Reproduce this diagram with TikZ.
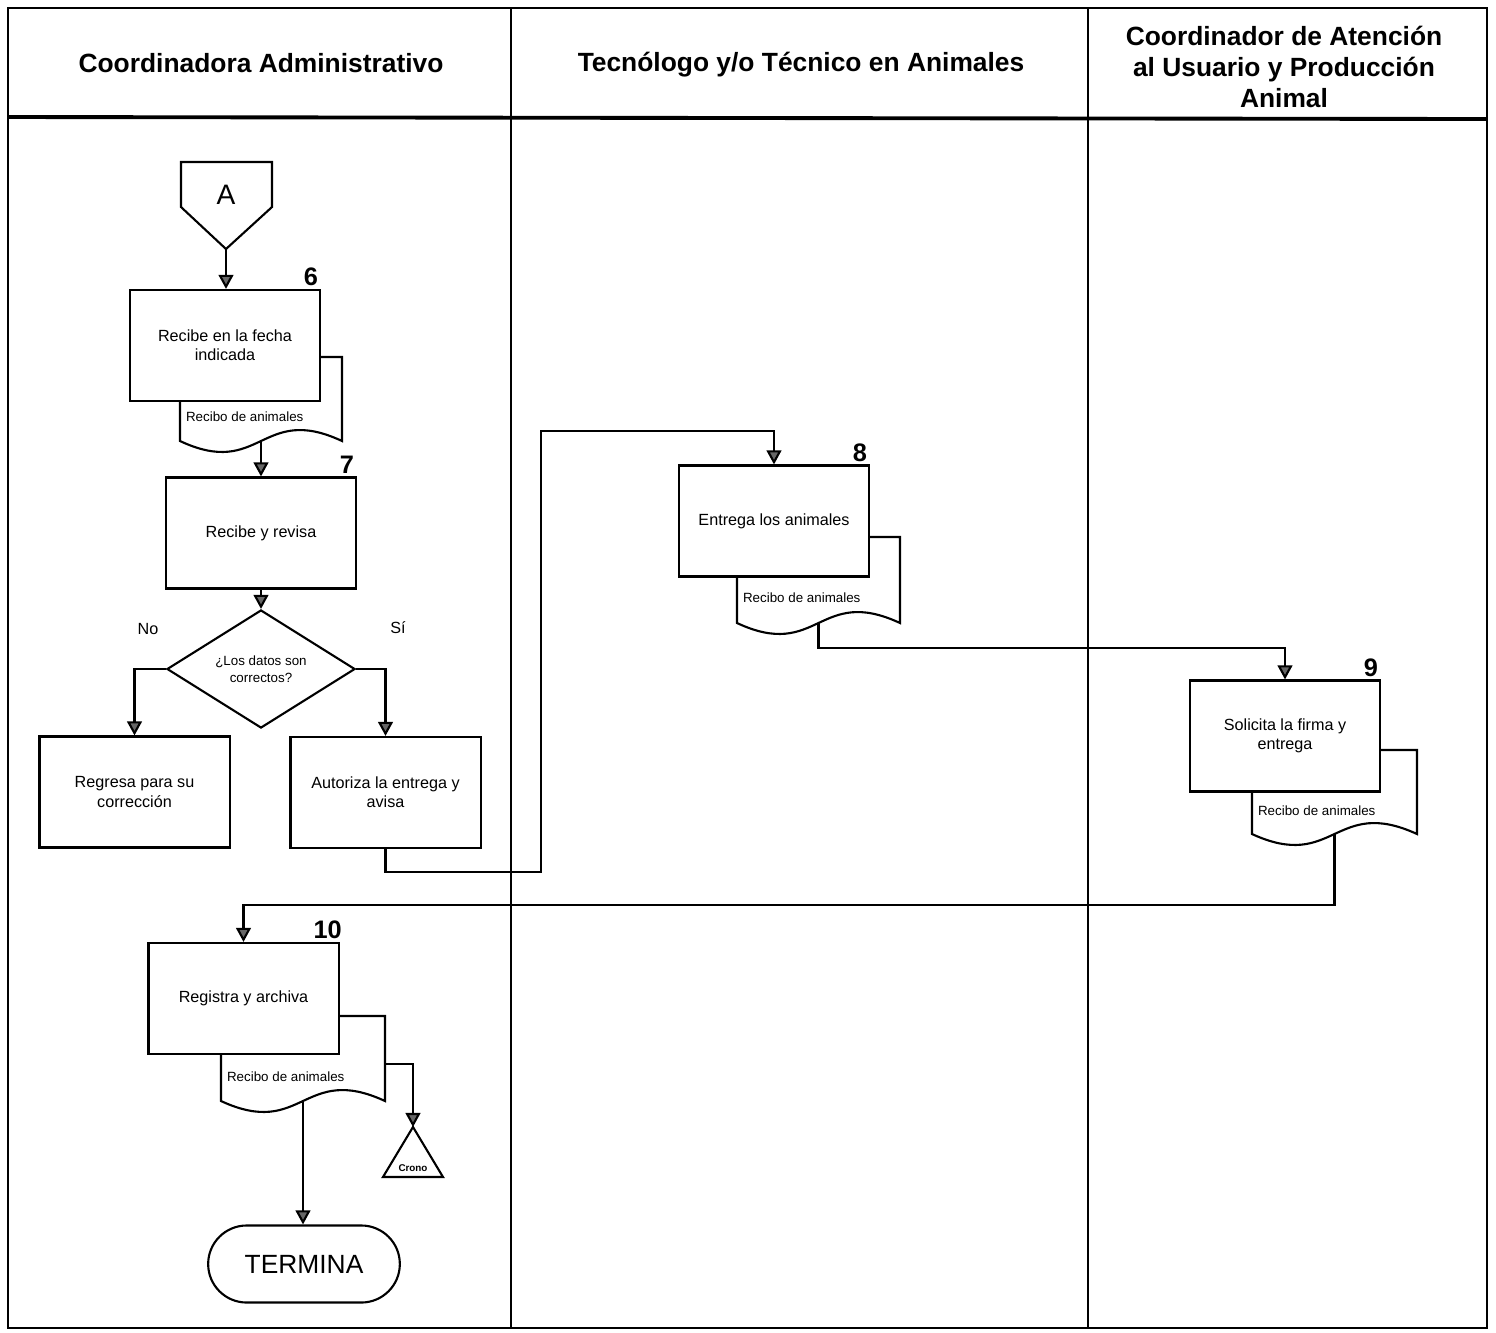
\documentclass[tikz,border=0pt]{standalone}
\usepackage{fontspec}
\setmainfont{Liberation Sans}
\usetikzlibrary{arrows.meta, shapes.geometric, shapes.misc}
\begin{document}
\begin{tikzpicture}[x=0.01cm, y=-0.01cm, line width=0.6pt,
                    every node/.style={font=\fontsize{4.6}{5.5}\selectfont, align=center},
                    lane/.style={line width=0.8pt},
                    headtxt/.style={font=\bfseries\fontsize{7.5}{8.9}\selectfont},
                    proc/.style={draw, fill=white, minimum width=1.9cm, minimum height=1.11cm, inner sep=1pt},
                    numlbl/.style={font=\bfseries\fontsize{7.2}{8}\selectfont, inner sep=0.6pt, anchor=south east},
                    docline/.style={draw, fill=white},
                    doctxt/.style={font=\fontsize{3.8}{4.6}\selectfont, inner sep=0pt},
                    flow/.style={-{Triangle[length=4pt, width=4.2pt, fill=black!60]}}]
                    % Parameters
                    \useasboundingbox (0,0) rectangle (1496,1332);
                    \def\recibo#1#2#3#4#5#6{%
                        \draw[docline] (#2,#4) -- (#3,#4) -- (#3,#5)
                            .. controls ({(#2+#3)/2},#5-38) and ({(#2+#3)/2},#5+38) .. (#2,#5) -- cycle;
                        \node[doctxt, anchor=west] (#1t) at (#2+5,#6) {Recibo de animales};
                        \coordinate (#1) at ({(#2+#3)/2},#5);
                    }

                    % Draw the lanes
                    \draw[lane] (8,8) rectangle (1487,1328);
                    \draw[line width=1.1pt] (8,117) -- (1487,119);
                    \draw[lane] (511,8) -- (511,1328);
                    \draw[lane] (1088,8) -- (1088,1328);
                    \node[headtxt] (h1) at (261,63) {Coordinadora Administrativo};
                    \node[headtxt] (h2) at (801,65) {Tecnólogo y/o Técnico en Animales};
                    \node[headtxt] (h3) at (1284,67) {Coordinador de Atención\\al Usuario y Producción\\Animal};

                    % Connector A
                    \draw (181,162) -- (272,162) -- (272,207) -- (226,249) -- (181,207) -- cycle;
                    \node[font=\fontsize{8}{9}\selectfont] (conA) at (226,195) {A};
                    \coordinate (conAtip) at (226,249);

                    % Documents behind the boxes
                    \recibo{rec6}{180}{342}{357}{441}{417}
                    \recibo{rec8}{737}{900}{537}{623}{598}
                    \recibo{rec9}{1252}{1417}{750}{834}{811}
                    \recibo{rec10}{221}{385}{1016}{1101}{1077}
                    \coordinate (rec10r) at (385,1064);

                    % Boxes
                    \node[proc, label={[numlbl]north east:6}] (box6) at (225,345.5) {Recibe en la fecha\\indicada};
                    \node[proc, label={[numlbl]north east:7}] (box7) at (261,533) {Recibe y revisa};
                    \node[draw, diamond, fill=white, minimum width=1.88cm, minimum height=1.1cm, inner sep=0pt,
                          font=\fontsize{3.8}{4.8}\selectfont] (dec) at (261,669) {¿Los datos son\\correctos?};
                    \node[proc] (regresa) at (134.5,792) {Regresa para su\\corrección};
                    \node[proc] (autoriza) at (385.5,792.5) {Autoriza la entrega y\\avisa};
                    \node[proc, label={[numlbl]north east:8}] (box8) at (774,521) {Entrega los animales};
                    \node[proc, label={[numlbl]north east:9}] (box9) at (1285,736) {Solicita la firma y\\entrega};
                    \node[proc, label={[numlbl, xshift=1.5pt]north east:10}] (box10) at (243.5,998.5) {Registra y archiva};
                    \node[draw, rounded rectangle, minimum width=2.15cm, minimum height=0.77cm,
                          font=\fontsize{7.5}{9}\selectfont] (termina) at (304,1264) {TERMINA};

                    % Crono
                    \draw (413,1127) -- (443,1177) -- (383,1177) -- cycle;
                    \coordinate (cronotop) at (413,1127);
                    \node[font=\bfseries\fontsize{2.8}{3.4}\selectfont] (crono) at (413,1168) {Crono};

                    % Branch labels
                    \node (no) at (148,629) {No};
                    \node (si) at (398,628) {Sí};

                    % Add arrows
                    \draw[flow] (conAtip) -- (conAtip |- box6.north);
                    \draw[flow] (rec6) -- (rec6 |- box7.north);
                    \draw[flow] (box7.south) -- (dec.north);
                    \draw[flow] (dec.west) -| (regresa.north);
                    \draw[flow] (dec.east) -| (autoriza.north);
                    \draw[flow] (autoriza.south) |- (541,872) -- (541,431) -| (box8.north);
                    \draw[flow] (rec8) -- ++(0,25) -| (box9.north);
                    \draw[flow] (rec9) -- ++(0,71) -| (box10.north);
                    \draw[flow] (rec10) -- (rec10 |- termina.north);
                    \draw[flow] (rec10r) -| (cronotop);
                \end{tikzpicture}
\end{document}
